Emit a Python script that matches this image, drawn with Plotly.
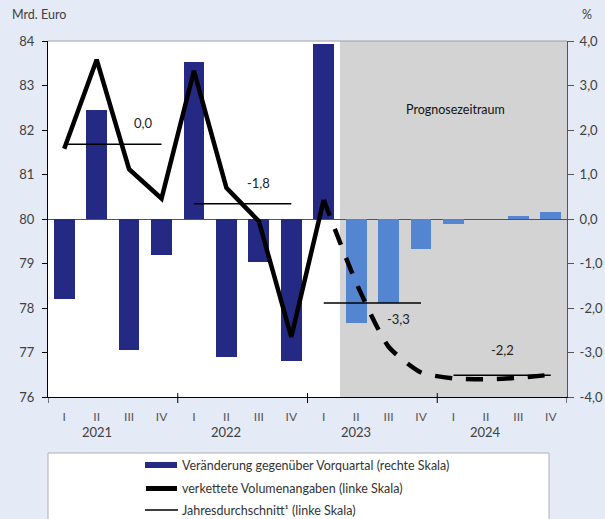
import plotly.graph_objects as go

quarters = ["I", "II", "III", "IV"] * 4
years = ["2021", "2022", "2023", "2024"]
change_pct = [-1.8, 2.45, -2.95, -0.8, 3.52, -3.1, -0.97, -3.2,
              3.94, -2.34, -1.89, -0.67, -0.11, 0.0, 0.07, 0.15]
volume = [81.58, 83.58, 81.12, 80.46, 83.33, 80.70, 79.95, 77.35,
          80.43, 78.57, 77.13, 76.55, 76.42, 76.40, 76.43, 76.50]
annual_avg = [81.68, 80.34, 78.11, 76.49]
annual_label = ["0,0", "-1,8", "-3,3", "-2,2"]
forecast_start = 9  # first forecast quarter (II 2023)
left_ticks = [76, 77, 78, 79, 80, 81, 82, 83, 84]
right_ticks = [-4, -3, -2, -1, 0, 1, 2, 3, 4]
right_ticktext = ["-4,0", "-3,0", "-2,0", "-1,0", "0,0", "1,0", "2,0", "3,0", "4,0"]

NAVY = "#242A83"
LIGHT = "#5485D1"
FONT = "Lato"
TXT = "#404040"

x = list(range(len(quarters)))
bar_colors = [NAVY if i < forecast_start else LIGHT for i in x]

fig = go.Figure()

fig.add_trace(go.Bar(x=x, y=change_pct, marker=dict(color=bar_colors, line=dict(width=0)),
                     width=0.64, yaxis="y", showlegend=False))

# solid part of volume line
fig.add_trace(go.Scatter(x=x[:forecast_start], y=volume[:forecast_start], mode="lines",
                         line=dict(color="black", width=4.5), yaxis="y2", showlegend=False))
# forecast (dashed) part
fig.add_trace(go.Scatter(x=x[forecast_start - 1:], y=volume[forecast_start - 1:], mode="lines",
                         line=dict(color="black", width=4.5, dash="17px,14px", shape="spline", smoothing=0.6),
                         yaxis="y2", showlegend=False))

# annual averages
label_offsets = [(2.43, 0.47), (1.98, 0.48), (2.3, -0.35), (1.5, 0.56)]
for k, yr in enumerate(years):
    xs = [4 * k, 4 * k + 3]
    fig.add_trace(go.Scatter(x=xs, y=[annual_avg[k]] * 2, mode="lines",
                             line=dict(color="black", width=1.5), yaxis="y2", showlegend=False))
    dx, dy = label_offsets[k]
    fig.add_annotation(x=4 * k + dx, y=annual_avg[k] + dy, xref="x", yref="y2",
                       text=annual_label[k], showarrow=False,
                       font=dict(family=FONT, size=13, color="#222"))


def px(xp):
    return (xp - 48) / 519


def py(yp):
    return (397 - yp) / 356


# year labels
for k, yr in enumerate(years):
    fig.add_annotation(x=4 * k + 1, y=py(432), xref="x", yref="paper", text=yr,
                       showarrow=False, yanchor="middle", font=dict(family=FONT, size=13, color=TXT))

# forecast shading
fig.add_shape(type="rect", xref="x", yref="paper", x0=forecast_start - 0.5, x1=len(x) - 0.5,
              y0=0, y1=1, fillcolor="#D3D3D3", line=dict(width=0), layer="below")
# top border
fig.add_shape(type="line", xref="paper", yref="paper", x0=0, x1=1, y0=1, y1=1,
              line=dict(color="#A0A0A0", width=1))
# year boundary ticks
for b in [-0.5, 3.5, 7.5, 11.5, 15.5]:
    fig.add_shape(type="line", xref="x", yref="paper", x0=b, x1=b,
                  y0=-6 / 356, y1=(4 / 356 if -0.5 < b < 15.5 else 0),
                  line=dict(color="black", width=1))

fig.add_annotation(x=12.06, y=2.46, xref="x", yref="y", text="Prognosezeitraum",
                   showarrow=False, font=dict(family=FONT, size=12.5, color="#111"))

# top labels
fig.add_annotation(x=px(10), y=py(15), xref="paper", yref="paper", text="Mrd. Euro",
                   showarrow=False, xanchor="left", yanchor="middle",
                   font=dict(family=FONT, size=12.5, color=TXT))
fig.add_annotation(x=px(594), y=py(15), xref="paper", yref="paper", text="%", showarrow=False,
                   xanchor="right", yanchor="middle", font=dict(family=FONT, size=12.5, color=TXT))

# manual legend
fig.add_shape(type="rect", xref="paper", yref="paper", x0=px(48), x1=px(549), y0=py(453), y1=py(530),
              fillcolor="white", line=dict(color="#B0B0B0", width=1), layer="above")
fig.add_shape(type="rect", xref="paper", yref="paper", x0=px(145), x1=px(177), y0=py(468), y1=py(462),
              fillcolor=NAVY, line=dict(width=0))
fig.add_shape(type="line", xref="paper", yref="paper", x0=px(146), x1=px(177), y0=py(488.5), y1=py(488.5),
              line=dict(color="black", width=5))
fig.add_shape(type="line", xref="paper", yref="paper", x0=px(145), x1=px(178), y0=py(510), y1=py(510),
              line=dict(color="black", width=1.5))
legend_texts = ["Veränderung gegenüber Vorquartal (rechte Skala)",
                "verkettete Volumenangaben (linke Skala)",
                "Jahresdurchschnitt¹ (linke Skala)"]
for t, yy in zip(legend_texts, [465, 488.5, 510]):
    fig.add_annotation(x=px(180), y=py(yy), xref="paper", yref="paper", text=t, showarrow=False,
                       xanchor="left", yanchor="middle", font=dict(family=FONT, size=12.5, color="#333"))

fig.update_layout(
    width=605, height=519,
    margin=dict(l=48, r=38, t=41, b=122),
    paper_bgcolor="#E4EAF6", plot_bgcolor="white",
    bargap=0, showlegend=False,
    font=dict(family=FONT, size=12, color=TXT),
    xaxis=dict(range=[-0.5, 15.5], tickvals=x, ticktext=quarters, ticks="", showline=True,
               linecolor="black", linewidth=1, showgrid=False, zeroline=False,
               ticklabelstandoff=9, automargin=False,
               tickfont=dict(family=FONT, size=12, color="#555")),
    yaxis=dict(range=[-4, 4], side="right", tickvals=right_ticks, ticktext=right_ticktext,
               ticks="outside", ticklen=6, tickcolor="#555", showline=True, linecolor="#555",
               showgrid=False, zeroline=True, zerolinecolor="#555", zerolinewidth=1,
               ticklabelstandoff=3, automargin=False,
               tickfont=dict(family=FONT, size=13, color=TXT)),
    yaxis2=dict(range=[76, 84], side="left", overlaying="y", anchor="x", tickvals=left_ticks,
                ticks="outside", ticklen=5, tickcolor="black", showline=True, linecolor="black",
                showgrid=False, zeroline=False, ticklabelstandoff=5, automargin=False,
                tickfont=dict(family=FONT, size=13, color=TXT)),
)

fig.write_html("out.html", config={"displayModeBar": False},
               post_script="document.body.style.margin='0';")
